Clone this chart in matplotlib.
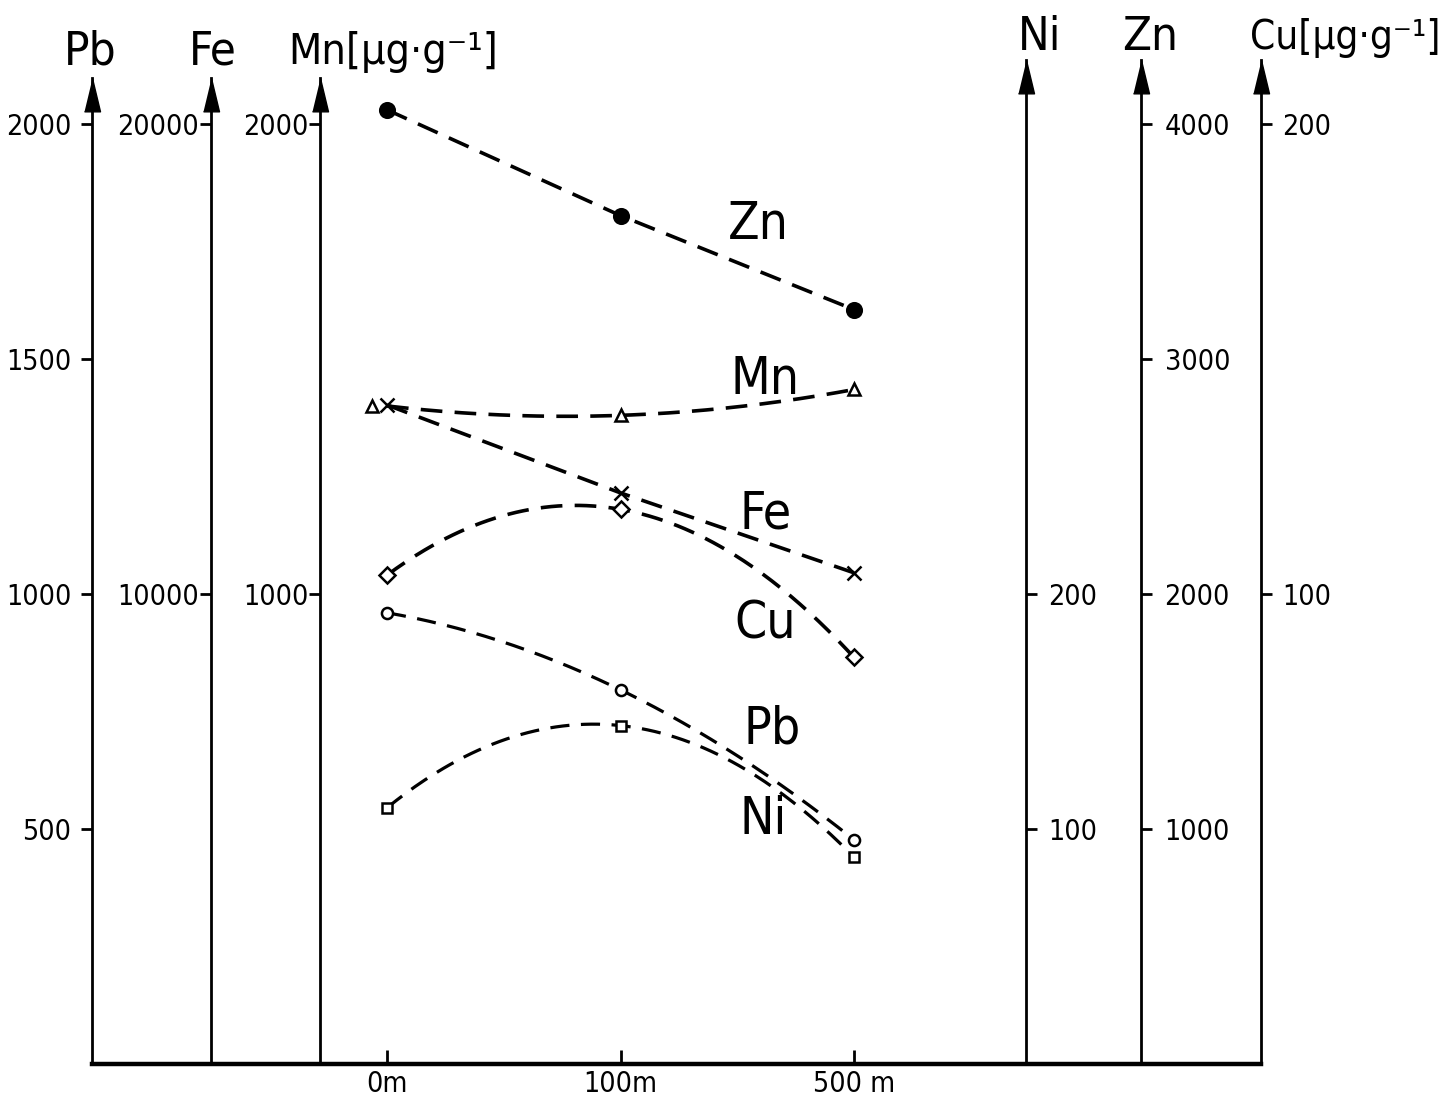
import numpy as np
import matplotlib
matplotlib.use("Agg")
import matplotlib.pyplot as plt
from matplotlib.transforms import ScaledTranslation

# ---------------- data (µg/g) ----------------
distances = ['0m', '100m', '500 m']
zn = [4060, 3610, 3210]
mn = [1400, 1380, 1435]
fe = [14020, 12150, 10450]
cu = [104, 118, 86.5]
pb = [960, 796, 477]
ni = [109, 144, 88]

pb_ticks = [500, 1000, 1500, 2000]
fe_ticks = [10000, 20000]
mn_ticks = [1000, 2000]
ni_ticks = [100, 200]
zn_ticks = [1000, 2000, 3000, 4000]
cu_ticks = [100, 200]

plt.rcParams['font.family'] = ['DejaVu Sans']
plt.rcParams['font.stretch'] = 'condensed'

W, H = 1449, 1099
fig = plt.figure(figsize=(W / 100, H / 100), dpi=100)
fig.patch.set_facecolor('white')

ax_l, ax_r, ax_b, ax_t = 92, 1261, 1064, 60
ax = fig.add_axes([ax_l / W, 1 - ax_b / H, (ax_r - ax_l) / W, (ax_b - ax_t) / H])
ax.patch.set_alpha(0)

YMAX = 2136.0
xpos = np.arange(len(distances))
ax.set_xlim(-(387 - ax_l) / 233.5, (ax_r - 387) / 233.5)

LW_AX = 2.0
TICK_FS = 20.5
tip_left = (ax_b - 78) / (ax_b - ax_t)
arrow_marker = [(-0.24, -1.0), (0.24, -1.0), (0.0, 0.0)]


def setup_axis(a, scale, ticks, side, frac, tip, pad):
    a.set_ylim(0, YMAX * scale)
    for s in ['top', 'bottom', 'left', 'right']:
        a.spines[s].set_visible(False)
    sp = a.spines[side]
    sp.set_visible(True)
    sp.set_position(('axes', frac))
    sp.set_linewidth(LW_AX)
    sp.set_bounds(0, YMAX * scale * tip)
    a.yaxis.set_ticks_position(side)
    a.set_yticks(ticks)
    a.set_yticklabels([str(t) for t in ticks])
    a.tick_params(axis='y', direction='out', length=8, width=LW_AX,
                  labelsize=TICK_FS, pad=pad)
    a.plot([frac], [tip], marker=arrow_marker, markersize=48, color='black',
           transform=a.transAxes, clip_on=False, zorder=5)


def frac_of(px):
    return (px - ax_l) / (ax_r - ax_l)


# Pb axis = main axes
setup_axis(ax, 1.0, pb_ticks, 'left', 0.0, tip_left, 7)
ax.spines['bottom'].set_visible(True)
ax.spines['bottom'].set_linewidth(3.2)
ax.spines['bottom'].set_bounds(ax.get_xlim()[0], ax.get_xlim()[1])
ax.set_xticks(xpos)
ax.set_xticklabels(distances, fontsize=TICK_FS)
ax.tick_params(axis='x', direction='in', length=10, width=LW_AX, pad=4)

ax_fe = ax.twinx(); setup_axis(ax_fe, 10.0, fe_ticks, 'left', frac_of(211), tip_left, 0.5)
ax_mn = ax.twinx(); setup_axis(ax_mn, 1.0, mn_ticks, 'left', frac_of(320), tip_left, 0.5)
ax_ni = ax.twinx(); setup_axis(ax_ni, 0.2, ni_ticks, 'right', frac_of(1026), 1.0, 8)
ax_zn = ax.twinx(); setup_axis(ax_zn, 2.0, zn_ticks, 'right', frac_of(1141), 1.0, 9)
ax_cu = ax.twinx(); setup_axis(ax_cu, 0.1, cu_ticks, 'right', 1.0, 1.0, 7)
for a in (ax_fe, ax_mn, ax_ni, ax_zn, ax_cu):
    a.set_xlim(ax.get_xlim())

LINE = dict(color='black', lw=2.6, dashes=(6.0, 3.4))
LINE_THIN = dict(color='black', lw=2.3, dashes=(6.0, 3.6))


def straight(a, ys, marker, ms, mfc, **kw):
    a.plot(xpos, ys, **kw, zorder=3)
    a.plot(xpos, ys, ls='none', marker=marker, ms=ms, mfc=mfc, mec='black',
           mew=1.8, zorder=4)


def curved(a, ys, marker, ms, mfc, offset_first=0.0, **kw):
    c = np.polyfit(xpos, ys, 2)
    xx = np.linspace(xpos[0], xpos[-1], 200)
    a.plot(xx, np.polyval(c, xx), **kw, zorder=3)
    a.plot(xpos[1:], ys[1:], ls='none', marker=marker, ms=ms, mfc=mfc,
           mec='black', mew=1.8, zorder=4)
    tr = a.transData + ScaledTranslation(offset_first / 100, 0, fig.dpi_scale_trans)
    a.plot(xpos[:1], ys[:1], ls='none', marker=marker, ms=ms, mfc=mfc,
           mec='black', mew=1.8, zorder=4, transform=tr)


straight(ax_zn, zn, 'o', 10.5, 'black', **LINE)
straight(ax_fe, fe, 'x', 10, 'black', **LINE)
curved(ax_mn, mn, '^', 8, 'white', offset_first=-15, **LINE)
curved(ax_cu, cu, 'D', 8, 'white', **LINE)
curved(ax, pb, 'o', 8, 'white', **LINE_THIN)
curved(ax_ni, ni, 's', 7, 'white', **LINE_THIN)

# series labels (main-axes coordinates, Pb scale)
LBL = dict(fontsize=37, ha='center', va='center', color='black')
ax.text(1.59, 1785, 'Zn', **LBL)
ax.text(1.62, 1455, 'Mn', **LBL)
ax.text(1.62, 1168, 'Fe', **LBL)
ax.text(1.62, 934, 'Cu', **LBL)
ax.text(1.65, 711, 'Pb', **LBL)
ax.text(1.61, 519, 'Ni', **LBL)


def ftext(x, y, s, ha='center', fs=34):
    fig.text(x / W, 1 - y / H, s, fontsize=fs, ha=ha, va='center', color='black')


ftext(90, 52, 'Pb')
ftext(213, 52, 'Fe')
ftext(288, 52, 'Mn[µg·g⁻¹]', ha='left', fs=31)
ftext(1040, 38, 'Ni')
ftext(1150, 38, 'Zn')
ftext(1250, 38, 'Cu[µg·g⁻¹]', ha='left', fs=29)

fig.savefig('out.png', dpi=100, facecolor='white')
